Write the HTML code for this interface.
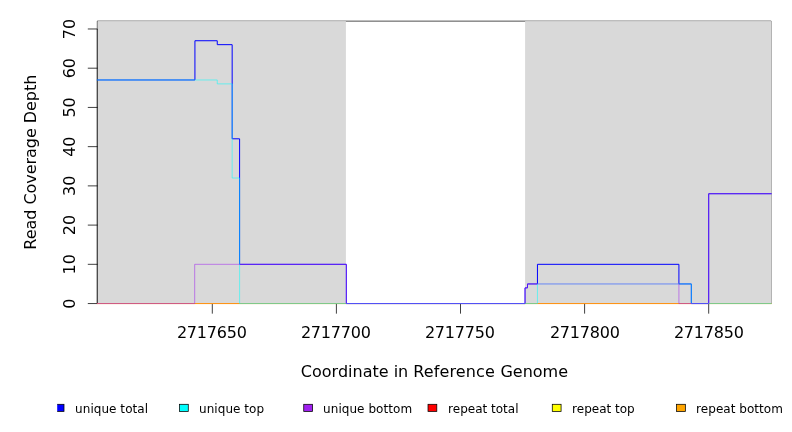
<!DOCTYPE html>
<html><head><meta charset="utf-8"><title>Read Coverage Depth</title>
<style>
html,body{margin:0;padding:0;background:#fff;}
svg{display:block;will-change:transform;}
text{font-family:"DejaVu Sans","Liberation Sans",sans-serif;fill:#000;}
</style></head><body>
<svg width="792" height="432" viewBox="0 0 792 432">
<rect x="0" y="0" width="792" height="432" fill="#fff"/>
<path d="M97.3,303.55V21.13H771.2V303.55" fill="none" stroke="#000" stroke-width="0.7" stroke-linejoin="miter"/>
<rect x="97.3" y="21.13" width="248.60" height="282.42" fill="#d9d9d9"/>
<rect x="525.1" y="21.13" width="246.45" height="282.42" fill="#d9d9d9"/>

<path d="M97.3,303.55V28.98M97.6,303.55H87.8M97.6,264.32H87.8M97.6,225.1H87.8M97.6,185.88H87.8M97.6,146.65H87.8M97.6,107.43H87.8M97.6,68.2H87.8M97.6,28.98H87.8M212.3,303.75V313.65M336.4,303.75V313.65M460.5,303.75V313.65M584.6,303.75V313.65M708.7,303.75V313.65" fill="none" stroke="#000" stroke-width="0.75" stroke-linecap="butt"/>
<rect x="97" y="20.8" width="1" height="7.78" fill="#000" opacity="0.22"/>
<polyline points="97.3,303.55 771.2,303.55" fill="none" stroke="#ffff00" stroke-width="0.525" stroke-linejoin="round" stroke-linecap="round"/>
<polyline points="97.3,303.55 771.2,303.55" fill="none" stroke="#ff0000" stroke-width="0.525" stroke-linejoin="round" stroke-linecap="round"/>
<polyline points="97.3,303.55 771.2,303.55" fill="none" stroke="#ffa500" stroke-width="0.62" stroke-linejoin="round" stroke-linecap="round"/>
<polyline points="97.3,79.97 194.93,79.97 194.93,40.74 217.26,40.74 217.26,44.67 232.16,44.67 232.16,138.81 239.6,138.81 239.6,264.32 346.33,264.32 346.33,303.55 525.03,303.55 525.03,287.86 527.51,287.86 527.51,283.94 537.44,283.94 537.44,264.32 678.92,264.32 678.92,283.94 691.33,283.94 691.33,303.55 708.7,303.55 708.7,193.72 771.2,193.72" fill="none" stroke="#0000ff" stroke-width="1.0" stroke-linejoin="round" stroke-linecap="round"/>
<polyline points="97.3,79.97 217.26,79.97 217.26,83.89 232.16,83.89 232.16,178.03 239.6,178.03 239.6,303.55 537.44,303.55 537.44,283.94 691.33,283.94 691.33,303.55 771.2,303.55" fill="none" stroke="#00ffff" stroke-width="0.525" stroke-linejoin="round" stroke-linecap="round"/>
<polyline points="97.3,303.55 194.68,303.55 194.68,264.32 346.33,264.32 346.33,303.55 525.03,303.55 525.03,287.86 527.51,287.86 527.51,283.94 678.92,283.94 678.92,303.55 708.7,303.55 708.7,193.72 771.2,193.72" fill="none" stroke="#a020f0" stroke-width="0.525" stroke-linejoin="round" stroke-linecap="round"/>
<text font-size="16" text-anchor="middle" transform="translate(75.2,303.55) rotate(-90)">0</text>
<text font-size="16" text-anchor="middle" transform="translate(75.2,264.32) rotate(-90)">10</text>
<text font-size="16" text-anchor="middle" transform="translate(75.2,225.1) rotate(-90)">20</text>
<text font-size="16" text-anchor="middle" transform="translate(75.2,185.88) rotate(-90)">30</text>
<text font-size="16" text-anchor="middle" transform="translate(75.2,146.65) rotate(-90)">40</text>
<text font-size="16" text-anchor="middle" transform="translate(75.2,107.43) rotate(-90)">50</text>
<text font-size="16" text-anchor="middle" transform="translate(75.2,68.2) rotate(-90)">60</text>
<text font-size="16" text-anchor="middle" transform="translate(75.2,28.98) rotate(-90)">70</text>
<text font-size="16" text-anchor="middle" x="211.90" y="338.2" textLength="70" lengthAdjust="spacing">2717650</text>
<text font-size="16" text-anchor="middle" x="335.90" y="338.2" textLength="70" lengthAdjust="spacing">2717700</text>
<text font-size="16" text-anchor="middle" x="459.90" y="338.2" textLength="70" lengthAdjust="spacing">2717750</text>
<text font-size="16" text-anchor="middle" x="584.90" y="338.2" textLength="70" lengthAdjust="spacing">2717800</text>
<text font-size="16" text-anchor="middle" x="708.90" y="338.2" textLength="70" lengthAdjust="spacing">2717850</text>
<text font-size="16" y="377"><tspan x="300.85">Coordinate in </tspan><tspan x="413.35" textLength="81.4" lengthAdjust="spacing">Reference</tspan> <tspan x="500.4">Genome</tspan></text>
<text font-size="16" text-anchor="middle" transform="translate(35.7,162.2) rotate(-90)" textLength="175.0" lengthAdjust="spacing">Read Coverage Depth</text>
<clipPath id="lc"><rect x="57.2" y="395" width="735" height="30"/></clipPath><g clip-path="url(#lc)">
<rect x="55.20" y="404.3" width="8.8" height="7.1" fill="#0000ff" stroke="#000" stroke-width="0.75"/>
<text font-size="12" x="75.1" y="412.8" textLength="72.9" lengthAdjust="spacing">unique total</text>
<rect x="179.47" y="404.3" width="8.8" height="7.1" fill="#00ffff" stroke="#000" stroke-width="0.75"/>
<text font-size="12" x="199.1" y="412.8" textLength="64.9" lengthAdjust="spacing">unique top</text>
<rect x="303.74" y="404.3" width="8.8" height="7.1" fill="#a020f0" stroke="#000" stroke-width="0.75"/>
<text font-size="12" x="323.1" y="412.8" textLength="89.0" lengthAdjust="spacing">unique bottom</text>
<rect x="428.01" y="404.3" width="8.8" height="7.1" fill="#ff0000" stroke="#000" stroke-width="0.75"/>
<text font-size="12" x="448.1" y="412.8" textLength="70.4" lengthAdjust="spacing">repeat total</text>
<rect x="552.28" y="404.3" width="8.8" height="7.1" fill="#ffff00" stroke="#000" stroke-width="0.75"/>
<text font-size="12" x="572.1" y="412.8" textLength="62.6" lengthAdjust="spacing">repeat top</text>
<rect x="676.55" y="404.3" width="8.8" height="7.1" fill="#ffa500" stroke="#000" stroke-width="0.75"/>
<text font-size="12" x="696.1" y="412.8" textLength="86.8" lengthAdjust="spacing">repeat bottom</text>
</g>
</svg></body></html>
